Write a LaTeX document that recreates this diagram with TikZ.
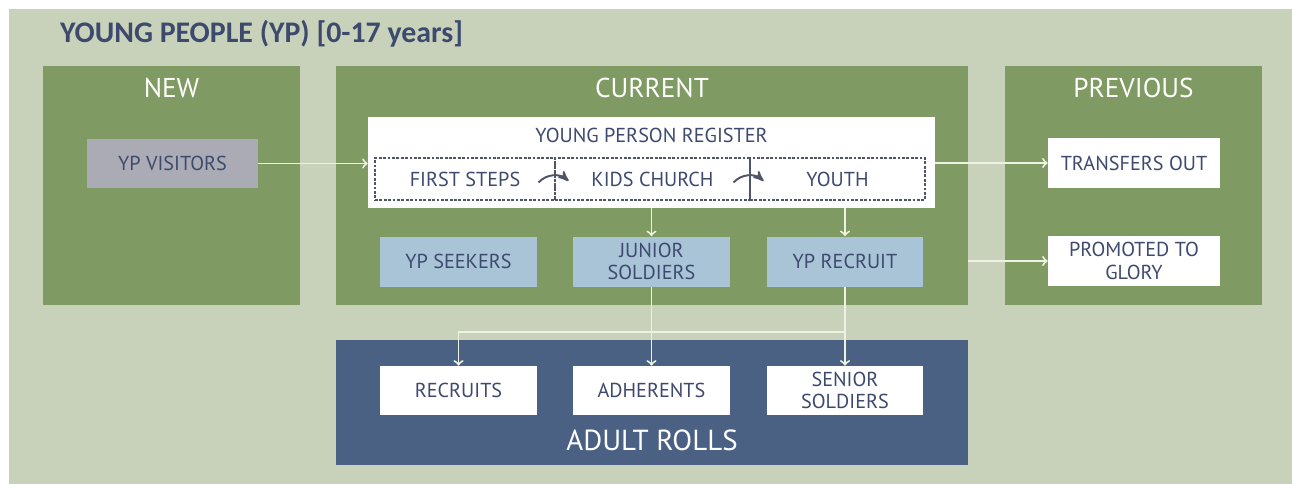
\documentclass[tikz,border=0pt]{standalone}
\usepackage{fontspec}
\setmainfont{PT Sans}
\newfontfamily\headfont{Carlito}
\usetikzlibrary{arrows,calc}
\definecolor{sage}{HTML}{C8D1B9}
\definecolor{leaf}{HTML}{7F9A62}
\definecolor{navy}{HTML}{4B6184}
\definecolor{ink}{HTML}{3D4A6E}
\definecolor{mist}{HTML}{A9C4D7}
\definecolor{slate}{HTML}{AAABB5}
\definecolor{pale}{HTML}{EDF2E2}
\definecolor{dashgrey}{HTML}{4F5566}
\tikzset{
  panel/.style={fill=leaf, inner sep=0pt},
  panelhead/.style={text=white, font=\fontsize{15.5}{18}\selectfont},
  item/.style={fill=white, text=ink, inner sep=0pt, minimum width=3.14cm, minimum height=1cm,
    align=center, font=\fontsize{11.5}{13}\selectfont},
  stage/.style={draw=dashgrey, line width=0.6pt, dash pattern=on 1.6pt off 0.9pt, text=ink, inner sep=0pt,
    minimum height=0.84cm, font=\fontsize{11.5}{13}\selectfont},
  flow/.style={draw=pale, line width=1.1pt, ->, >=to},
  hop/.style={draw=dashgrey, line width=1.1pt, ->, >=stealth'}
}
\begin{document}
\begin{tikzpicture}[x=0.02cm, y=-0.02cm]
\useasboundingbox (0,0) rectangle (1292,484);
\fill [sage] (9,9) rectangle (1292,484);
\node [anchor=west, text=ink, font=\headfont\bfseries\fontsize{17}{20}\selectfont] (title) at (54,34) {YOUNG PEOPLE (YP) [0-17 years]};

\node [panel, minimum width=5.14cm, minimum height=4.78cm] (newp) at (171.5,185.5) {};
\node [panel, minimum width=12.64cm, minimum height=4.78cm] (curp) at (652,185.5) {};
\node [panel, minimum width=5.14cm, minimum height=4.78cm] (prevp) at (1133.5,185.5) {};
\node [panel, fill=navy, minimum width=12.64cm, minimum height=2.5cm] (adult) at (652,402.5) {};
\node [panelhead] (newh) at ([yshift=-0.44cm]newp.north) {NEW};
\node [panelhead] (curh) at ([yshift=-0.44cm]curp.north) {CURRENT};
\node [panelhead] (prevh) at ([yshift=-0.44cm]prevp.north) {PREVIOUS};
\node [panelhead, font=\fontsize{16.5}{19}\selectfont] (adulth) at ([yshift=0.5cm]adult.south) {ADULT ROLLS};

\node [item, fill=slate, minimum width=3.42cm, minimum height=0.98cm] (visit) at (172.5,163.5) {YP VISITORS};

\node [item, minimum width=11.34cm, minimum height=1.82cm] (reg) at (651.5,162.5) {};
\node [text=ink, font=\fontsize{11.5}{13}\selectfont] (regh) at ([yshift=-0.38cm]reg.north) {YOUNG PERSON REGISTER};
\node [stage, minimum width=3.6cm] (first) at (465,179) {FIRST STEPS};
\node [stage, minimum width=3.9cm] (kids) at (652.5,179) {KIDS CHURCH};
\node [stage, minimum width=3.5cm] (youth) at (837.5,179) {YOUTH};
\draw [hop] ([xshift=-0.34cm,yshift=-0.07cm]first.east) to [bend left=45] ([xshift=0.26cm,yshift=-0.04cm]first.east);
\draw [hop] ([xshift=-0.34cm,yshift=-0.07cm]kids.east) to [bend left=45] ([xshift=0.26cm,yshift=-0.04cm]kids.east);

\node [item, fill=mist] (seek) at (458.5,261.5) {YP SEEKERS};
\node [item, fill=mist] (junior) at (651.5,261.5) {JUNIOR\\SOLDIERS};
\node [item, fill=mist] (recruit) at (845,261.5) {YP RECRUIT};

\node [item, minimum height=0.98cm] (recs) at (458.5,390.5) {RECRUITS};
\node [item, minimum height=0.98cm] (adh) at (651.5,390.5) {ADHERENTS};
\node [item, minimum height=0.98cm] (senior) at (845,390.5) {SENIOR\\SOLDIERS};

\node [item, minimum width=3.44cm] (trans) at (1134,163) {TRANSFERS OUT};
\node [item, minimum width=3.44cm] (glory) at (1134,261) {PROMOTED TO\\GLORY};

\draw [flow] (visit.east) -- (visit.east -| reg.west);
\draw [flow] (junior.north |- reg.south) -- (junior.north);
\draw [flow] (recruit.north |- reg.south) -- (recruit.north);
\draw [flow] (junior.south) -- (adh.north);
\draw [flow] (recruit.south) -- (senior.north);
\coordinate (fork) at (845,332);
\draw [flow] (fork) -| (recs.north);
\draw [flow] (reg.east |- trans) -- (trans.west);
\draw [flow] (curp.east |- glory) -- (glory.west);
\end{tikzpicture}
\end{document}
